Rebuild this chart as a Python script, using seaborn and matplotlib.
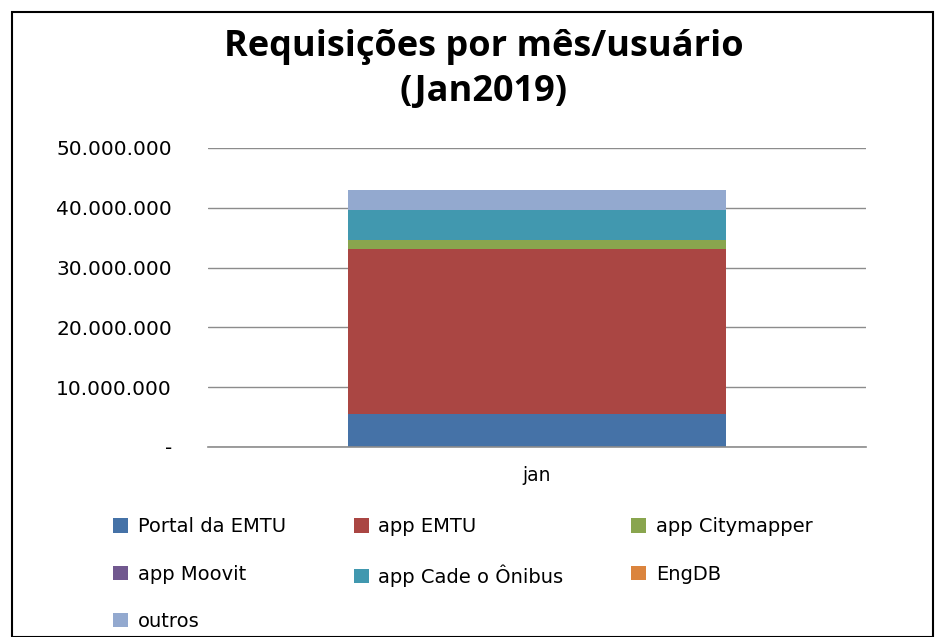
import pandas as pd
import numpy as np
import matplotlib
matplotlib.use("Agg")
import matplotlib.pyplot as plt
import seaborn as sns
from matplotlib.patches import Patch, Rectangle
from matplotlib.ticker import FuncFormatter

# dados
categorias = ["jan"]
series = ["Portal da EMTU", "app EMTU", "app Citymapper", "app Moovit",
          "app Cade o Ônibus", "EngDB", "outros"]
valores = [5_500_000, 27_550_000, 1_550_000, 50_000, 4_900_000, 20_000, 3_400_000]
cores = ["#4572A7", "#AA4643", "#89A54E", "#71588F", "#4198AF", "#DB843D", "#93A9CF"]
yticks = [0, 10_000_000, 20_000_000, 30_000_000, 40_000_000, 50_000_000]

sns.set_style("white")
plt.rcParams["font.family"] = ["DejaVu Sans"]
plt.rcParams["text.color"] = "black"
plt.rcParams["xtick.color"] = "black"
plt.rcParams["ytick.color"] = "black"

fig = plt.figure(figsize=(9.35, 6.37), dpi=100)
ax = fig.add_axes([0.2225, 0.2983, 0.7037, 0.4694])

# empilhado: desenha os acumulados do topo para a base
acumulado = np.cumsum(valores)
df = pd.DataFrame({"mes": categorias * len(series), "serie": series, "total": acumulado})
for i in range(len(series) - 1, -1, -1):
    sns.barplot(data=df.iloc[[i]], x="mes", y="total", color=cores[i],
                width=0.575, saturation=1, ax=ax, edgecolor="none")

ax.set_ylim(0, 50_000_000)
ax.set_xlim(-0.5, 0.5)
ax.set_yticks(yticks)
ax.yaxis.set_major_formatter(FuncFormatter(
    lambda v, p: "-" if v == 0 else f"{int(v):,}".replace(",", ".")))
ax.tick_params(axis="y", labelsize=14.5, length=0, pad=26)
ax.tick_params(axis="x", labelsize=13.5, length=0, pad=14)
ax.set_xlabel("")
ax.set_ylabel("")
ax.grid(axis="y", color="#8c8c8c", linewidth=1)
ax.set_axisbelow(True)
for s in ["left", "right", "top"]:
    ax.spines[s].set_visible(False)
ax.spines["bottom"].set_color("#8c8c8c")
ax.spines["bottom"].set_linewidth(1.2)

fig.text(0.517, 0.927, "Requisições por mês/usuário", ha="center", va="center",
         fontsize=26, fontweight="bold", family=["Open Sans", "DejaVu Sans"])
fig.text(0.517, 0.856, "(Jan2019)", ha="center", va="center",
         fontsize=26, fontweight="bold", family=["Open Sans", "DejaVu Sans"])

# legenda: ordem para preencher linha a linha em 3 colunas
handles = [Patch(facecolor=c, edgecolor="none") for c in cores]
ordem = [0, 3, 6, 1, 4, 2, 5]
fig.legend([handles[i] for i in ordem], [series[i] for i in ordem],
           ncol=3, loc="upper left", bbox_to_anchor=(0.113, 0.2),
           frameon=False, fontsize=14, handlelength=0.75, handleheight=0.75,
           handletextpad=0.5, columnspacing=3.5, labelspacing=1.45,
           borderaxespad=0)

# moldura do gráfico
fig.patches.append(Rectangle((12 / 935, 0), 1 - 14 / 935, 1 - 12 / 637,
                             transform=fig.transFigure, fill=False,
                             edgecolor="black", linewidth=1.5))

fig.savefig("out.png", dpi=100)
